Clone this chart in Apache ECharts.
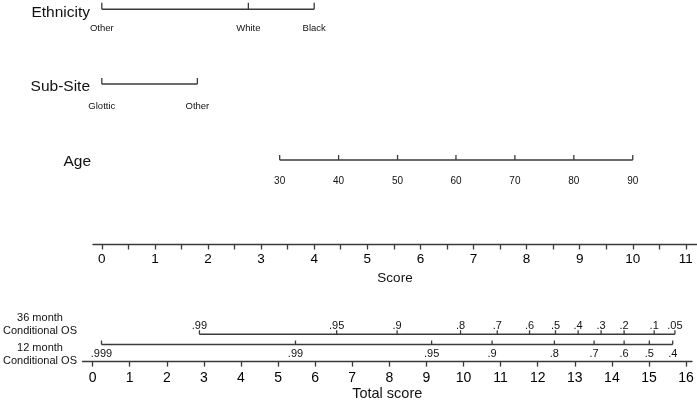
<!DOCTYPE html>
<html><head><meta charset="utf-8">
<script src="https://cdn.jsdelivr.net/npm/echarts@6/dist/echarts.min.js"></script>
<style>html,body{margin:0;padding:0;background:#fff}#c{width:697px;height:402px}</style>
</head><body><div id="c"></div>
<script>
// ---- data ----
const scoreTicks = [0,0.5,1,1.5,2,2.5,3,3.5,4,4.5,5,5.5,6,6.5,7,7.5,8,8.5,9,9.5,10,10.5,11];
const scoreLabels = [0,1,2,3,4,5,6,7,8,9,10,11];
const totalTicks = [0,1,2,3,4,5,6,7,8,9,10,11,12,13,14,15,16];

const ethnicityLabels = ['Other','White','Black'];
const ethnicityPoints = [0, 2.76, 4.0];

const subSiteLabels = ['Glottic','Other'];
const subSitePoints = [0, 1.8];

const ageLabels = ['30','40','50','60','70','80','90'];
const agePoints = [3.35, 4.46, 5.57, 6.67, 7.78, 8.89, 10.0];

const os36Labels = ['.99','.95','.9','.8','.7','.6','.5','.4','.3','.2','.1','.05'];
const os36Points = [2.88, 6.58, 8.21, 9.92, 10.91, 11.78, 12.48, 13.09, 13.71, 14.33, 15.14, 15.70];

const os12Labels = ['.999','.99','.95','.9','.8','.7','.6','.5','.4'];
const os12Points = [0.24, 5.47, 9.14, 10.77, 12.45, 13.52, 14.33, 15.01, 15.64];

// ---- styling ----
const FONT = '"Liberation Sans", Arial, Helvetica, sans-serif';
const LINE = '#3a3a3a';

function rowSeries(points, labels, opt) {
  return {
    type: 'custom',
    xAxisIndex: opt.grid,
    yAxisIndex: opt.grid,
    clip: false,
    silent: true,
    animation: false,
    data: points.map(p => [p, opt.level]),
    renderItem: function (params, api) {
      const pt = api.coord([api.value(0), api.value(1)]);
      const children = [
        { type: 'line', shape: { x1: pt[0], y1: pt[1] - opt.tick, x2: pt[0], y2: pt[1] },
          style: { stroke: LINE, lineWidth: 1.3 } },
        { type: 'text', x: pt[0], y: pt[1] + opt.labelOffset,
          style: { text: labels[params.dataIndex], fill: '#111', fontSize: opt.fontSize,
                   fontFamily: FONT, align: 'center', verticalAlign: 'middle' } }
      ];
      if (params.dataIndex === 0) {
        const end = api.coord([points[points.length - 1], opt.level]);
        children.push({ type: 'line', shape: { x1: pt[0], y1: pt[1], x2: end[0], y2: end[1] },
          style: { stroke: LINE, lineWidth: 1.6 } });
      }
      return { type: 'group', children: children };
    }
  };
}

function titleText(text, x, y, size, align) {
  return { type: 'text', x: x, y: y,
    style: { text: text, fill: '#111', fontSize: size, fontFamily: FONT,
             align: align || 'right', verticalAlign: 'middle', lineHeight: 13 } };
}

const chart = echarts.init(document.getElementById('c'), null, { renderer: 'canvas' });
chart.setOption({
  animation: false,
  backgroundColor: '#fff',
  grid: [
    { left: 93, right: 0, top: 0, height: 244 },
    { left: 82.5, right: 5, top: 300, height: 66 }
  ],
  xAxis: [
    { gridIndex: 0, type: 'value', min: -0.166, max: 11.21, position: 'bottom',
      splitLine: { show: false },
      axisLine: { onZero: false, lineStyle: { color: LINE, width: 1.3 } },
      axisTick: { customValues: scoreTicks, length: 5.5, lineStyle: { color: LINE, width: 1.3 } },
      axisLabel: { customValues: scoreLabels, margin: 8.5, fontSize: 13.5, color: '#000', fontFamily: FONT },
      name: 'Score', nameLocation: 'middle', nameGap: 21,
      nameTextStyle: { fontSize: 13.5, color: '#111', fontFamily: FONT } },
    { gridIndex: 1, type: 'value', min: -0.272, max: 16.16, position: 'bottom',
      splitLine: { show: false },
      axisLine: { onZero: false, lineStyle: { color: LINE, width: 1.3 } },
      axisTick: { customValues: totalTicks, length: 5, lineStyle: { color: LINE, width: 1.3 } },
      axisLabel: { customValues: totalTicks, margin: 9.5, fontSize: 14, color: '#000', fontFamily: FONT },
      name: 'Total score', nameLocation: 'middle', nameGap: 21.5,
      nameTextStyle: { fontSize: 14.5, color: '#111', fontFamily: FONT } }
  ],
  yAxis: [
    { gridIndex: 0, type: 'value', min: 0, max: 244, inverse: true, show: false },
    { gridIndex: 1, type: 'value', min: 300, max: 366, inverse: true, show: false }
  ],
  graphic: [
    titleText('Ethnicity', 90, 13, 15.5),
    titleText('Sub-Site', 90, 87, 15.5),
    titleText('Age', 91, 162, 15.5),
    titleText('36 month\nConditional OS', 40, 324, 11, 'center'),
    titleText('12 month\nConditional OS', 40, 354.5, 11, 'center')
  ],
  series: [
    rowSeries(ethnicityPoints, ethnicityLabels, { grid: 0, level: 9.3, tick: 6.5, labelOffset: 19, fontSize: 9.5 }),
    rowSeries(subSitePoints, subSiteLabels, { grid: 0, level: 84, tick: 6, labelOffset: 22, fontSize: 9.5 }),
    rowSeries(agePoints, ageLabels, { grid: 0, level: 160, tick: 5, labelOffset: 21.5, fontSize: 10 }),
    rowSeries(os36Points, os36Labels, { grid: 1, level: 336.7, tick: 4, labelOffset: -8.5, fontSize: 11 }),
    rowSeries(os12Points, os12Labels, { grid: 1, level: 347.7, tick: 4, labelOffset: 9.6, fontSize: 11 })
  ]
});
</script>
</body></html>
